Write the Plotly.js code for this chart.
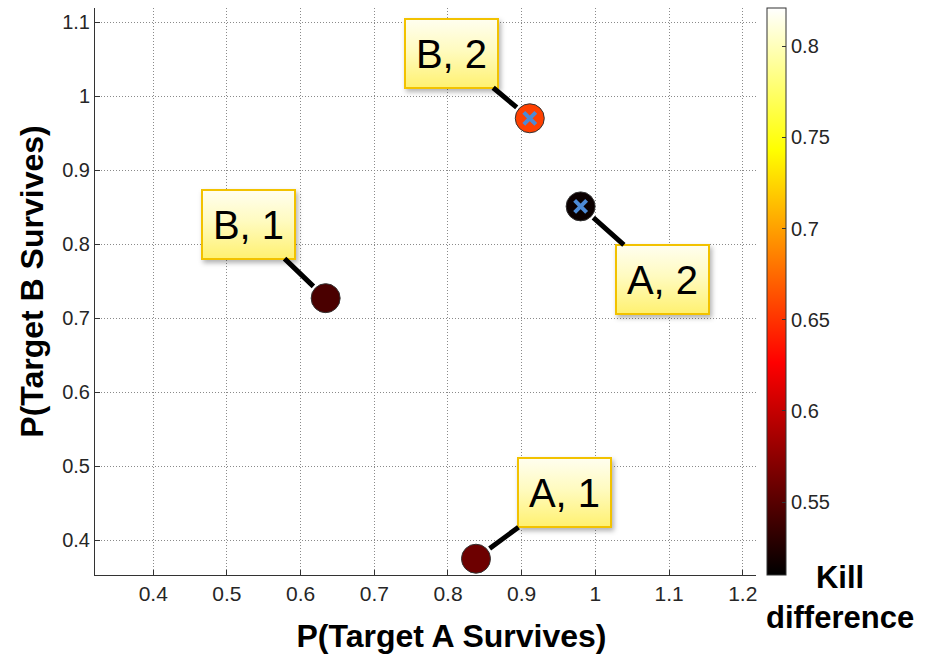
<!DOCTYPE html>
<html><head><meta charset="utf-8">
<script src="https://cdn.plot.ly/plotly-3.0.1.min.js"></script>
<style>html,body{margin:0;padding:0;background:#fff;} #chart{width:928px;height:657px;}</style>
</head><body>
<svg width="0" height="0" style="position:absolute;left:0;top:0">
<defs>
<linearGradient id="annGrad" x1="0" y1="0" x2="0" y2="1">
<stop offset="0" stop-color="#fffef0"/>
<stop offset="0.45" stop-color="#fffbc0"/>
<stop offset="1" stop-color="#fff170"/>
</linearGradient>
<filter id="annShadow" x="-20%" y="-20%" width="150%" height="150%">
<feDropShadow dx="2" dy="3" stdDeviation="2.5" flood-color="#000" flood-opacity="0.3"/>
</filter>
</defs></svg>
<div id="chart"></div>
<script>
// ---- data ----
const labels   = ['A, 1', 'B, 1', 'B, 2', 'A, 2'];
const pA       = [0.838, 0.634, 0.911, 0.980];   // P(Target A Survives)
const pB       = [0.375, 0.727, 0.970, 0.851];   // P(Target B Survives)
const killDiff = [0.560, 0.544, 0.656, 0.515];   // Kill difference
const crossed  = [false, false, true, true];
const xTickVals = [0.4, 0.5, 0.6, 0.7, 0.8, 0.9, 1.0, 1.1, 1.2];
const xTickText = ['0.4', '0.5', '0.6', '0.7', '0.8', '0.9', '1', '1.1', '1.2'];
const yTickVals = [0.4, 0.5, 0.6, 0.7, 0.8, 0.9, 1.0, 1.1];
const yTickText = ['0.4', '0.5', '0.6', '0.7', '0.8', '0.9', '1', '1.1'];
const cbTickVals = [0.55, 0.6, 0.65, 0.7, 0.75, 0.8];
const cbTickText = ['0.55', '0.6', '0.65', '0.7', '0.75', '0.8'];

// ---- layout settings ----
const FONT = 'Liberation Sans, Arial, Helvetica, sans-serif';
const NARROW = 'Liberation Sans Narrow, Arial Narrow, Liberation Sans, Arial, sans-serif';
const labelOffsets = [[89, -66], [-77, -74], [-78, -65], [82, 73]]; // label box offset (px)
const hot = [[0, '#000000'], [0.375, '#ff0000'], [0.75, '#ffff00'], [1, '#ffffff']];

const cx = [], cy = [];
pA.forEach((v, i) => { if (crossed[i]) { cx.push(v); cy.push(pB[i]); } });

const traces = [
  {
    type: 'scatter', mode: 'markers', x: pA, y: pB, text: labels,
    marker: {
      size: 29, color: killDiff, colorscale: hot, cmin: 0.51, cmax: 0.821,
      line: {width: 1, color: '#333'},
      colorbar: {
        x: 1.0166, xanchor: 'left', xpad: 0, ypad: 0, y: 0.5, yanchor: 'middle',
        len: 1, thickness: 19, outlinewidth: 1, outlinecolor: '#333',
        tickvals: cbTickVals, ticktext: cbTickText, ticks: 'inside', ticklen: 4, tickcolor: '#333',
        tickfont: {family: FONT, size: 20, color: '#262626'}
      }
    },
    showlegend: false, hoverinfo: 'text'
  },
  {
    type: 'scatter', mode: 'markers', x: cx, y: cy,
    marker: {symbol: 'x-thin', size: 12, color: '#4d8ad6', line: {width: 4, color: '#4d8ad6'}},
    showlegend: false, hoverinfo: 'skip'
  }
];

const annotations = labels.map((t, i) => ({
  x: pA[i], y: pB[i], xref: 'x', yref: 'y', text: t,
  showarrow: true, arrowhead: 0, arrowwidth: 5, arrowcolor: '#000', standoff: 17,
  ax: labelOffsets[i][0], ay: labelOffsets[i][1],
  font: {family: FONT, size: 40, color: '#000'},
  bgcolor: '#fff8b0', bordercolor: '#f2c200', borderwidth: 2, borderpad: 0,
  width: 91, height: 67, align: 'center', valign: 'middle'
}));
annotations.push({
  xref: 'paper', yref: 'paper', x: 1.127, y: -0.04, xanchor: 'center', yanchor: 'middle',
  text: '<b>Kill</b><br><b>difference</b>', showarrow: false,
  font: {family: FONT, size: 31, color: '#000'}
});

const layout = {
  width: 928, height: 657,
  margin: {l: 95, r: 172, t: 8, b: 82},
  paper_bgcolor: '#fff', plot_bgcolor: '#fff',
  xaxis: {
    range: [0.321, 1.218], tickvals: xTickVals, ticktext: xTickText,
    showgrid: true, gridcolor: '#8a8a8a', griddash: '1px,2px', gridwidth: 1,
    zeroline: false, showline: true, linecolor: '#333', linewidth: 1, mirror: false,
    ticks: 'inside', ticklen: 5, tickcolor: '#333',
    tickfont: {family: NARROW, size: 21, color: '#262626'},
    title: {text: '<b>P(Target A Survives)</b>', font: {family: FONT, size: 32, color: '#000'}, standoff: 20}
  },
  yaxis: {
    range: [0.353, 1.119], tickvals: yTickVals, ticktext: yTickText,
    showgrid: true, gridcolor: '#8a8a8a', griddash: '1px,2px', gridwidth: 1,
    zeroline: false, showline: true, linecolor: '#333', linewidth: 1, mirror: false,
    ticks: 'inside', ticklen: 5, tickcolor: '#333',
    tickfont: {family: FONT, size: 20, color: '#262626'},
    title: {text: '<b>P(Target B Survives)</b>', font: {family: FONT, size: 32, color: '#000'}, standoff: 2}
  },
  annotations: annotations
};

Plotly.newPlot('chart', traces, layout, {displayModeBar: false, staticPlot: true}).then(() => {
  document.querySelectorAll('.annotation rect.bg').forEach((r, i) => {
    if (i < labels.length) {
      r.style.fill = 'url(#annGrad)';
      r.setAttribute('filter', 'url(#annShadow)');
    }
  });
  const xt = document.querySelector('.g-xtitle');
  if (xt) xt.setAttribute('transform', 'translate(26,0)');
  const yt = document.querySelector('.g-ytitle');
  if (yt) yt.setAttribute('transform', 'translate(-6,-10)');
});
</script>
</body></html>
